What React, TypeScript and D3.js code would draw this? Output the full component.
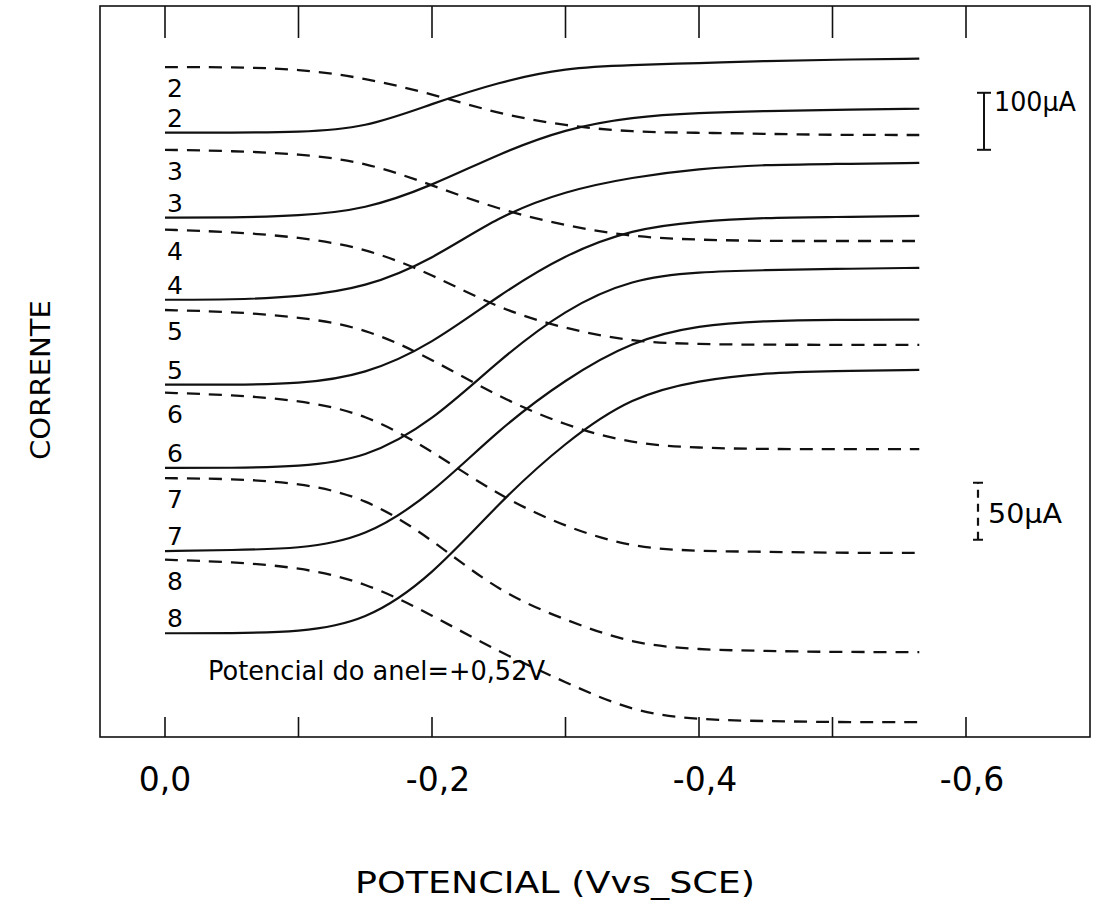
import React, { useEffect, useRef } from 'react';
import * as d3 from 'd3';

// potencial do disco (V vs SCE)
const potentials = [0, -0.05, -0.1, -0.15, -0.2, -0.25, -0.3, -0.35, -0.4, -0.45, -0.5, -0.565];

const curveLabels = ['2', '3', '4', '5', '6', '7', '8'];

// corrente do disco (linhas cheias), uA, deslocadas
const diskCurrents = [
  [1060, 1060, 1061, 1068, 1111, 1149, 1174, 1179, 1182, 1186, 1188, 1190],
  [911, 911, 914, 925, 967, 1023, 1067, 1088, 1095, 1098, 1100, 1102],
  [767, 767, 772, 788, 837, 914, 958, 982, 997, 1004, 1005, 1007],
  [618, 618, 619, 635, 689, 775, 847, 891, 905, 911, 912, 914],
  [472, 472, 474, 488, 553, 661, 751, 804, 816, 819, 821, 823],
  [326, 328, 330, 349, 426, 540, 628, 695, 723, 730, 732, 732],
  [182, 182, 184, 202, 282, 411, 518, 598, 626, 639, 642, 644],
];

// corrente do anel (linhas tracejadas)
const ringCurrents = [
  [1175, 1175, 1172, 1156, 1128, 1093, 1072, 1061, 1060, 1058, 1056, 1056],
  [1030, 1028, 1023, 1009, 968, 925, 897, 877, 872, 870, 870, 870],
  [890, 886, 877, 858, 812, 751, 716, 693, 689, 688, 688, 688],
  [749, 746, 737, 718, 663, 596, 546, 514, 507, 505, 505, 505],
  [604, 600, 591, 568, 502, 423, 368, 332, 326, 325, 323, 323],
  [454, 453, 446, 421, 347, 254, 205, 163, 153, 151, 149, 149],
  [311, 307, 298, 272, 214, 149, 96, 44, 30, 28, 26, 26],
];

const xTicks = [0, -0.1, -0.2, -0.3, -0.4, -0.5, -0.6];
const xTickLabels = ['0,0', '', '-0,2', '', '-0,4', '', '-0,6'];

// barras de escala: [base, topo] em unidades do eixo
const diskScaleBar = [1030, 1130];
const ringScaleBar = [346, 446];

const width = 1117;
const height = 920;
const frame = { left: 100, right: 1090, top: 6, bottom: 737 };
const font = '"DejaVu Sans", sans-serif';

const App = () => {
  const ref = useRef(null);

  useEffect(() => {
    const svg = d3.select(ref.current);
    svg.selectAll('*').remove();

    const x = d3.scaleLinear().domain([0, -0.6]).range([165, 966]);
    const y = d3.scaleLinear().domain([0, 1284]).range([frame.bottom, 5]);

    // moldura
    svg.append('rect')
      .attr('x', frame.left).attr('y', frame.top)
      .attr('width', frame.right - frame.left).attr('height', frame.bottom - frame.top)
      .attr('fill', 'none').attr('stroke', '#111').attr('stroke-width', 1.6);

    // marcas em cima e em baixo
    svg.append('g').selectAll('line').data(xTicks).join('line')
      .attr('x1', d => x(d)).attr('x2', d => x(d))
      .attr('y1', frame.top).attr('y2', frame.top + 32)
      .attr('stroke', '#111').attr('stroke-width', 1.6);
    svg.append('g').selectAll('line').data(xTicks).join('line')
      .attr('x1', d => x(d)).attr('x2', d => x(d))
      .attr('y1', frame.bottom).attr('y2', frame.bottom - 20)
      .attr('stroke', '#111').attr('stroke-width', 1.6);

    svg.append('g').selectAll('text').data(xTicks).join('text')
      .attr('x', (d, i) => x(d) + (i === 0 ? 0 : 6))
      .attr('y', 791)
      .attr('text-anchor', 'middle')
      .attr('font-family', font).attr('font-size', 33)
      .text((d, i) => xTickLabels[i]);

    svg.append('text')
      .attr('x', 555).attr('y', 893)
      .attr('text-anchor', 'middle')
      .attr('font-family', font).attr('font-size', 30)
      .attr('textLength', 400).attr('lengthAdjust', 'spacingAndGlyphs')
      .text('POTENCIAL (Vvs_SCE)');

    svg.append('text')
      .attr('transform', 'translate(50,380) rotate(-90)')
      .attr('text-anchor', 'middle')
      .attr('font-family', font).attr('font-size', 27)
      .attr('textLength', 160).attr('lengthAdjust', 'spacingAndGlyphs')
      .text('CORRENTE');

    const line = d3.line<number>()
      .x((d, i) => x(potentials[i]))
      .y(d => y(d))
      .curve(d3.curveBasis);

    svg.append('g').selectAll('path').data(diskCurrents).join('path')
      .attr('d', d => line(d))
      .attr('fill', 'none').attr('stroke', '#111').attr('stroke-width', 2.2);

    svg.append('g').selectAll('path').data(ringCurrents).join('path')
      .attr('d', d => line(d))
      .attr('fill', 'none').attr('stroke', '#111').attr('stroke-width', 2.3)
      .attr('stroke-dasharray', '13,9');

    // numeros das curvas
    svg.append('g').selectAll('text').data(diskCurrents).join('text')
      .attr('x', x(0) + 2).attr('y', d => y(d[0]) - 6)
      .attr('font-family', font).attr('font-size', 25)
      .text((d, i) => curveLabels[i]);
    svg.append('g').selectAll('text').data(ringCurrents).join('text')
      .attr('x', x(0) + 2).attr('y', d => y(d[0]) + 30)
      .attr('font-family', font).attr('font-size', 25)
      .text((d, i) => curveLabels[i]);

    // barra 100 uA
    const bx1 = 984;
    svg.append('line')
      .attr('x1', bx1).attr('x2', bx1)
      .attr('y1', y(diskScaleBar[0])).attr('y2', y(diskScaleBar[1]))
      .attr('stroke', '#111').attr('stroke-width', 2);
    svg.append('g').selectAll('line').data(diskScaleBar).join('line')
      .attr('x1', bx1 - 7).attr('x2', bx1 + 7)
      .attr('y1', d => y(d)).attr('y2', d => y(d))
      .attr('stroke', '#111').attr('stroke-width', 2);
    svg.append('text')
      .attr('x', 994).attr('y', y(diskScaleBar[1]) + 18)
      .attr('font-family', font).attr('font-size', 26)
      .attr('textLength', 82).attr('lengthAdjust', 'spacingAndGlyphs')
      .text('100µA');

    // barra 50 uA (anel)
    const bx2 = 978;
    svg.append('line')
      .attr('x1', bx2).attr('x2', bx2)
      .attr('y1', y(ringScaleBar[0])).attr('y2', y(ringScaleBar[1]))
      .attr('stroke', '#111').attr('stroke-width', 2.2)
      .attr('stroke-dasharray', '8,6');
    svg.append('g').selectAll('line').data(ringScaleBar).join('line')
      .attr('x1', bx2 - 5).attr('x2', bx2 + 5)
      .attr('y1', d => y(d)).attr('y2', d => y(d))
      .attr('stroke', '#111').attr('stroke-width', 2);
    svg.append('text')
      .attr('x', 988).attr('y', y(ringScaleBar[1]) + 40)
      .attr('font-family', font).attr('font-size', 26)
      .attr('textLength', 74).attr('lengthAdjust', 'spacingAndGlyphs')
      .text('50µA');

    svg.append('text')
      .attr('x', 208).attr('y', 680)
      .attr('font-family', font).attr('font-size', 27)
      .attr('textLength', 337).attr('lengthAdjust', 'spacingAndGlyphs')
      .text('Potencial do anel=+0,52V');
  });

  return (
    <svg
      ref={ref}
      width={width}
      height={height}
      viewBox={`0 0 ${width} ${height}`}
      style={{ position: 'absolute', left: 0, top: 0, background: '#fff' }}
    />
  );
};

export default App;
